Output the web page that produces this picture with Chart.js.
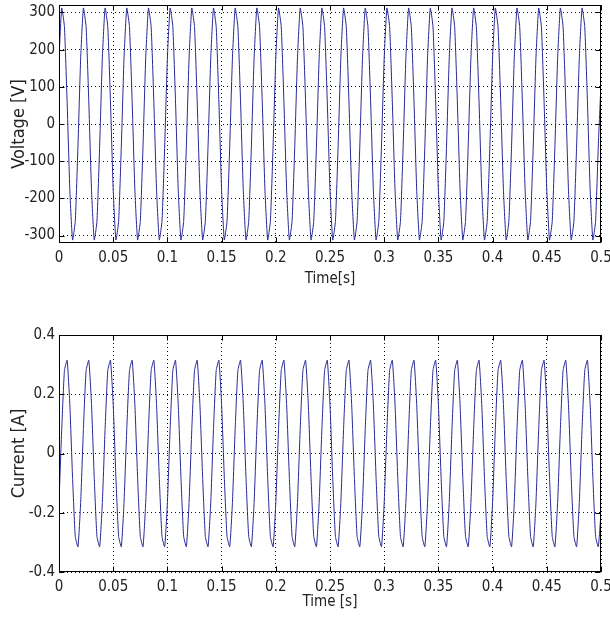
<!DOCTYPE html>
<html>
<head>
<meta charset="utf-8">
<script src="https://cdn.jsdelivr.net/npm/chart.js@4"></script>
<style>
  body { margin: 0; background: #fff; }
  .plot { position: absolute; left: 0; }
</style>
</head>
<body>
<div class="plot" style="top:0"><canvas id="voltChart" width="610" height="300"></canvas></div>
<div class="plot" style="top:300px"><canvas id="currChart" width="610" height="318"></canvas></div>
<script>
// SAMPLE TIMES [s]
const time = [
  0, 0.0025, 0.005, 0.0075, 0.01, 0.0125, 0.015, 0.0175,
  0.02, 0.0225, 0.025, 0.0275, 0.03, 0.0325, 0.035, 0.0375,
  0.04, 0.0425, 0.045, 0.0475, 0.05, 0.0525, 0.055, 0.0575,
  0.06, 0.0625, 0.065, 0.0675, 0.07, 0.0725, 0.075, 0.0775,
  0.08, 0.0825, 0.085, 0.0875, 0.09, 0.0925, 0.095, 0.0975,
  0.1, 0.1025, 0.105, 0.1075, 0.11, 0.1125, 0.115, 0.1175,
  0.12, 0.1225, 0.125, 0.1275, 0.13, 0.1325, 0.135, 0.1375,
  0.14, 0.1425, 0.145, 0.1475, 0.15, 0.1525, 0.155, 0.1575,
  0.16, 0.1625, 0.165, 0.1675, 0.17, 0.1725, 0.175, 0.1775,
  0.18, 0.1825, 0.185, 0.1875, 0.19, 0.1925, 0.195, 0.1975,
  0.2, 0.2025, 0.205, 0.2075, 0.21, 0.2125, 0.215, 0.2175,
  0.22, 0.2225, 0.225, 0.2275, 0.23, 0.2325, 0.235, 0.2375,
  0.24, 0.2425, 0.245, 0.2475, 0.25, 0.2525, 0.255, 0.2575,
  0.26, 0.2625, 0.265, 0.2675, 0.27, 0.2725, 0.275, 0.2775,
  0.28, 0.2825, 0.285, 0.2875, 0.29, 0.2925, 0.295, 0.2975,
  0.3, 0.3025, 0.305, 0.3075, 0.31, 0.3125, 0.315, 0.3175,
  0.32, 0.3225, 0.325, 0.3275, 0.33, 0.3325, 0.335, 0.3375,
  0.34, 0.3425, 0.345, 0.3475, 0.35, 0.3525, 0.355, 0.3575,
  0.36, 0.3625, 0.365, 0.3675, 0.37, 0.3725, 0.375, 0.3775,
  0.38, 0.3825, 0.385, 0.3875, 0.39, 0.3925, 0.395, 0.3975,
  0.4, 0.4025, 0.405, 0.4075, 0.41, 0.4125, 0.415, 0.4175,
  0.42, 0.4225, 0.425, 0.4275, 0.43, 0.4325, 0.435, 0.4375,
  0.44, 0.4425, 0.445, 0.4475, 0.45, 0.4525, 0.455, 0.4575,
  0.46, 0.4625, 0.465, 0.4675, 0.47, 0.4725, 0.475, 0.4775,
  0.48, 0.4825, 0.485, 0.4875, 0.49, 0.4925, 0.495, 0.4975,
  0.5
];

// VOLTAGE [V]
const voltage = [
  178, 312, 262, 59, -178, -312, -262, -59,
  178, 312, 262, 59, -178, -312, -262, -59,
  178, 312, 262, 59, -178, -312, -262, -59,
  178, 312, 262, 59, -178, -312, -262, -59,
  178, 312, 262, 59, -178, -312, -262, -59,
  178, 312, 262, 59, -178, -312, -262, -59,
  178, 312, 262, 59, -178, -312, -262, -59,
  178, 312, 262, 59, -178, -312, -262, -59,
  178, 312, 262, 59, -178, -312, -262, -59,
  178, 312, 262, 59, -178, -312, -262, -59,
  178, 312, 262, 59, -178, -312, -262, -59,
  178, 312, 262, 59, -178, -312, -262, -59,
  178, 312, 262, 59, -178, -312, -262, -59,
  178, 312, 262, 59, -178, -312, -262, -59,
  178, 312, 262, 59, -178, -312, -262, -59,
  178, 312, 262, 59, -178, -312, -262, -59,
  178, 312, 262, 59, -178, -312, -262, -59,
  178, 312, 262, 59, -178, -312, -262, -59,
  178, 312, 262, 59, -178, -312, -262, -59,
  178, 312, 262, 59, -178, -312, -262, -59,
  178, 312, 262, 59, -178, -312, -262, -59,
  178, 312, 262, 59, -178, -312, -262, -59,
  178, 312, 262, 59, -178, -312, -262, -59,
  178, 312, 262, 59, -178, -312, -262, -59,
  178, 312, 262, 59, -178, -312, -262, -59,
  110
];

// CURRENT [A]
const current = [
  -0.165, 0.081, 0.28, 0.315, 0.165, -0.081, -0.28, -0.315,
  -0.165, 0.081, 0.28, 0.315, 0.165, -0.081, -0.28, -0.315,
  -0.165, 0.081, 0.28, 0.315, 0.165, -0.081, -0.28, -0.315,
  -0.165, 0.081, 0.28, 0.315, 0.165, -0.081, -0.28, -0.315,
  -0.165, 0.081, 0.28, 0.315, 0.165, -0.081, -0.28, -0.315,
  -0.165, 0.081, 0.28, 0.315, 0.165, -0.081, -0.28, -0.315,
  -0.165, 0.081, 0.28, 0.315, 0.165, -0.081, -0.28, -0.315,
  -0.165, 0.081, 0.28, 0.315, 0.165, -0.081, -0.28, -0.315,
  -0.165, 0.081, 0.28, 0.315, 0.165, -0.081, -0.28, -0.315,
  -0.165, 0.081, 0.28, 0.315, 0.165, -0.081, -0.28, -0.315,
  -0.165, 0.081, 0.28, 0.315, 0.165, -0.081, -0.28, -0.315,
  -0.165, 0.081, 0.28, 0.315, 0.165, -0.081, -0.28, -0.315,
  -0.165, 0.081, 0.28, 0.315, 0.165, -0.081, -0.28, -0.315,
  -0.165, 0.081, 0.28, 0.315, 0.165, -0.081, -0.28, -0.315,
  -0.165, 0.081, 0.28, 0.315, 0.165, -0.081, -0.28, -0.315,
  -0.165, 0.081, 0.28, 0.315, 0.165, -0.081, -0.28, -0.315,
  -0.165, 0.081, 0.28, 0.315, 0.165, -0.081, -0.28, -0.315,
  -0.165, 0.081, 0.28, 0.315, 0.165, -0.081, -0.28, -0.315,
  -0.165, 0.081, 0.28, 0.315, 0.165, -0.081, -0.28, -0.315,
  -0.165, 0.081, 0.28, 0.315, 0.165, -0.081, -0.28, -0.315,
  -0.165, 0.081, 0.28, 0.315, 0.165, -0.081, -0.28, -0.315,
  -0.165, 0.081, 0.28, 0.315, 0.165, -0.081, -0.28, -0.315,
  -0.165, 0.081, 0.28, 0.315, 0.165, -0.081, -0.28, -0.315,
  -0.165, 0.081, 0.28, 0.315, 0.165, -0.081, -0.28, -0.315,
  -0.165, 0.081, 0.28, 0.315, 0.165, -0.081, -0.28, -0.315,
  -0.2
];

// TICKS
const xTicks = [0, 0.05, 0.1, 0.15, 0.2, 0.25, 0.3, 0.35, 0.4, 0.45, 0.5];
const xTickLabels = ["0", "0.05", "0.1", "0.15", "0.2", "0.25", "0.3", "0.35", "0.4", "0.45", "0.5"];
const vTicks = [-300, -200, -100, 0, 100, 200, 300];
const vTickLabels = ["-300", "-200", "-100", "0", "100", "200", "300"];
const iTicks = [-0.4, -0.2, 0, 0.2, 0.4];
const iTickLabels = ["-0.4", "-0.2", "0", "0.2", "0.4"];

const FONT = "'Liberation Sans Narrow', 'DejaVu Sans Condensed', 'Liberation Sans', sans-serif";
const INK = "#222";
const LINE = "rgb(40,40,150)";

// box + inward ticks like matlab
const boxPlugin = {
  id: "box",
  afterDraw(chart) {
    const {ctx, chartArea: a, scales} = chart;
    ctx.save();
    ctx.strokeStyle = "#000";
    ctx.lineWidth = 1;
    const l = Math.round(a.left) + 0.5, r = Math.round(a.right) - 0.5;
    const t = Math.round(a.top) + 0.5, b = Math.round(a.bottom) - 0.5;
    ctx.strokeRect(l, t, r - l, b - t);
    ctx.beginPath();
    scales.x.ticks.forEach(tk => {
      const x = Math.round(scales.x.getPixelForValue(tk.value)) + 0.5;
      ctx.moveTo(x, b); ctx.lineTo(x, b - 5);
      ctx.moveTo(x, t); ctx.lineTo(x, t + 5);
    });
    scales.y.ticks.forEach(tk => {
      const y = Math.round(scales.y.getPixelForValue(tk.value)) + 0.5;
      ctx.moveTo(l, y); ctx.lineTo(l + 5, y);
      ctx.moveTo(r, y); ctx.lineTo(r - 5, y);
    });
    ctx.stroke();
    ctx.restore();
  }
};

function makePlot(id, values, yMin, yMax, yTicks, yLabels, yTitle, xTitle, padTop, xHeight, xTitlePad) {
  const points = time.map((t, i) => ({x: t, y: values[i]}));
  return new Chart(document.getElementById(id), {
    type: "line",
    data: {
      datasets: [{
        data: points,
        borderColor: LINE,
        borderWidth: 1,
        pointRadius: 0,
        tension: 0.15,
        fill: false
      }]
    },
    options: {
      responsive: false,
      animation: false,
      devicePixelRatio: 1,
      layout: { padding: { top: padTop, right: 9, left: 0, bottom: 0 } },
      plugins: { legend: { display: false }, tooltip: { enabled: false } },
      scales: {
        x: {
          type: "linear",
          min: 0, max: 0.5,
          afterBuildTicks: s => { s.ticks = xTicks.map(v => ({value: v})); },
          afterFit: s => { s.height = xHeight; s.paddingLeft = 0; s.paddingRight = 0; },
          ticks: {
            padding: 6,
            autoSkip: false,
            maxRotation: 0,
            color: INK,
            font: { family: FONT, size: 15 },
            callback: (v, i) => xTickLabels[i]
          },
          grid: { color: "#111", drawTicks: false },
          border: { display: false, dash: [1, 3] },
          title: {
            display: true, text: xTitle, color: INK,
            font: { family: FONT, size: 15 },
            padding: { top: 0, bottom: xTitlePad }
          }
        },
        y: {
          type: "linear",
          min: yMin, max: yMax,
          afterBuildTicks: s => { s.ticks = yTicks.map(v => ({value: v})); },
          afterFit: s => { s.width = 59; s.paddingTop = 0; s.paddingBottom = 0; },
          ticks: {
            padding: 4,
            color: INK,
            font: { family: FONT, size: 15 },
            callback: (v, i) => yLabels[i]
          },
          grid: { color: "#111", drawTicks: false },
          border: { display: false, dash: [1, 3] },
          title: {
            display: true, text: yTitle, color: INK,
            font: { family: FONT, size: 18 },
            padding: { top: 9, bottom: 0 }
          }
        }
      }
    },
    plugins: [boxPlugin]
  });
}

makePlot("voltChart", voltage, -320, 320, vTicks, vTickLabels, "Voltage [V]", "Time[s]", 5, 57, 12);
makePlot("currChart", current, -0.4, 0.4, iTicks, iTickLabels, "Current [A]", "Time [s]", 35, 46, 7);
</script>
</body>
</html>
